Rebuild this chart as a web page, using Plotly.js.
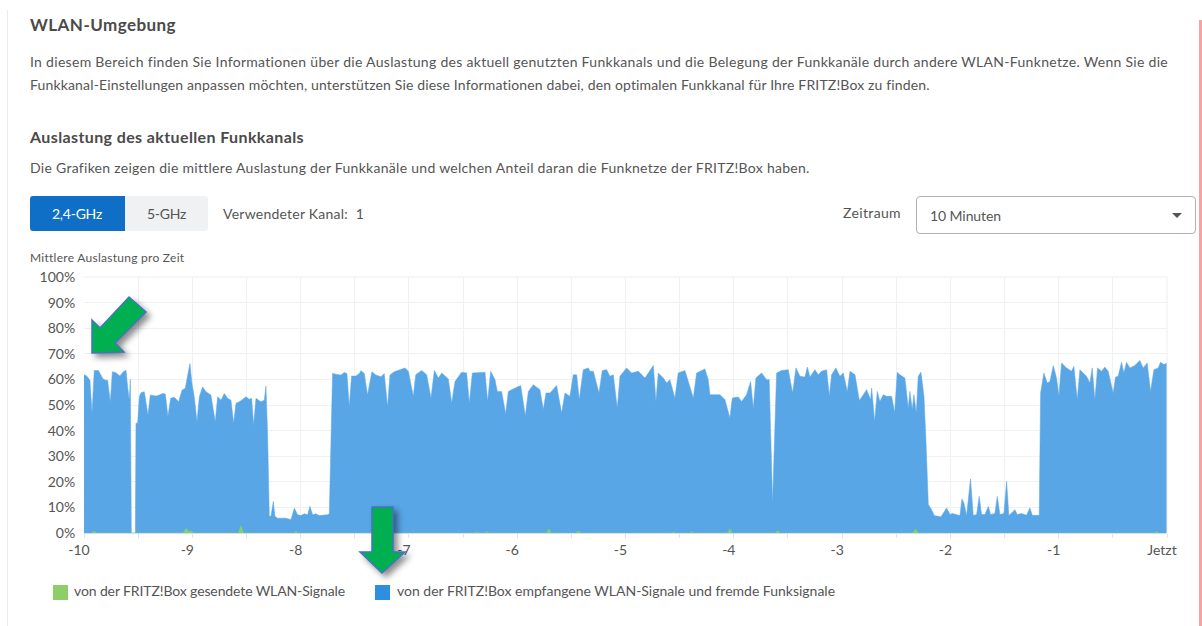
<!DOCTYPE html>
<html lang="de">
<head>
<meta charset="utf-8">
<title>WLAN-Umgebung</title>
<script src="https://cdn.plot.ly/plotly-3.0.1.min.js"></script>
<style>
html,body{margin:0;padding:0;background:#fff;width:1202px;height:626px;overflow:hidden}
body{font-family:Lato,"Noto Sans",sans-serif;color:#555;position:relative}
#chart{position:absolute;left:0;top:0;width:1202px;height:626px}
.t{position:absolute;white-space:nowrap;line-height:20px;font-size:14px;transform:translateY(-10px)}
.b{font-weight:700;color:#4a4a4a}
.box{position:absolute}
svg.arrows{position:absolute;left:0;top:0;width:1202px;height:626px;pointer-events:none;filter:drop-shadow(4px 4px 3px rgba(0,0,0,.45))}
</style>
</head>
<body>
<div id="chart"></div>

<div class="box" style="left:7px;top:10px;width:1px;height:616px;background:#ececec"></div>
<div class="box" style="left:1199px;top:20px;width:3px;height:606px;background:#f7a3a3"></div>

<div class="t b" data-w="146" style="left:30px;top:25px;font-size:17px">WLAN-Umgebung</div>
<div class="t" data-w="1138" style="left:30px;top:62px">In diesem Bereich finden Sie Informationen über die Auslastung des aktuell genutzten Funkkanals und die Belegung der Funkkanäle durch andere WLAN-Funknetze. Wenn Sie die</div>
<div class="t" data-w="900" style="left:30px;top:85px">Funkkanal-Einstellungen anpassen möchten, unterstützen Sie diese Informationen dabei, den optimalen Funkkanal für Ihre FRITZ!Box zu finden.</div>
<div class="t b" data-w="274" style="left:30px;top:137px;font-size:16px">Auslastung des aktuellen Funkkanals</div>
<div class="t" data-w="779" style="left:30px;top:168px">Die Grafiken zeigen die mittlere Auslastung der Funkkanäle und welchen Anteil daran die Funknetze der FRITZ!Box haben.</div>

<div class="box" style="left:30px;top:196px;width:178px;height:35px;background:#f0f1f3;border-radius:3px"></div>
<div class="box" style="left:30px;top:196px;width:95px;height:35px;background:#0f6fc6;border-radius:3px 0 0 3px"></div>
<div class="t" data-w="50" style="left:52px;top:214px;color:#fff">2,4-GHz</div>
<div class="t" data-w="39" style="left:147px;top:214px">5-GHz</div>
<div class="t" data-w="141" style="left:223px;top:214px">Verwendeter Kanal:&nbsp; 1</div>
<div class="t" data-w="58" style="left:843px;top:213px">Zeitraum</div>
<div class="box" style="left:916px;top:196px;width:278px;height:36px;border:1px solid #b0b0b0;border-radius:4px;background:#fff"></div>
<div class="t" data-w="71" style="left:930px;top:216px">10 Minuten</div>
<div class="box" style="left:1172px;top:213px;width:0;height:0;border-left:5px solid transparent;border-right:5px solid transparent;border-top:5px solid #555"></div>

<div class="t" data-w="154" style="left:30px;top:258px;font-size:12px">Mittlere Auslastung pro Zeit</div>

<div class="box" style="left:53px;top:585px;width:15px;height:15px;background:#8ccf68"></div>
<div class="t" data-w="271" style="left:74px;top:591px">von der FRITZ!Box gesendete WLAN-Signale</div>
<div class="box" style="left:375px;top:585px;width:15px;height:15px;background:#2e8fe0"></div>
<div class="t" data-w="438" style="left:397px;top:591px">von der FRITZ!Box empfangene WLAN-Signale und fremde Funksignale</div>

<svg class="arrows" viewBox="0 0 1202 626">
  <polygon points="92,353 92,320 100,328 129,297 146,312 115,343 124,352" fill="#00b050" stroke="#4472c4" stroke-width="1.5"/>
  <polygon points="372,507 393,507 393,552 405,552 382,573 360,552 372,552" fill="#00b050" stroke="#4472c4" stroke-width="1.5"/>
</svg>

<script>
// Zeit in Minuten vor "Jetzt" und empfangene Auslastung in Prozent
var receivedMinutes = [
-10,-9.975,-9.945,-9.926,-9.905,-9.889,-9.868,-9.849,-9.828,-9.803,-9.782,-9.757,-9.738,-9.705,-9.668,-9.637,-9.612,-9.597,-9.582,-9.572,-9.563,-9.551,-9.526,-9.52,-9.505,-9.489,-9.474,-9.443,-9.428,-9.409,-9.388,-9.335,-9.305,-9.274,-9.249,-9.225,-9.2,-9.166,-9.126,-9.095,-9.065,-9.043,-9.022,-9.003,-8.982,-8.957,-8.935,-8.905,-8.874,-8.828,-8.788,-8.766,-8.735,-8.705,-8.674,-8.643,-8.618,-8.597,-8.551,-8.505,-8.474,-8.452,-8.434,-8.412,-8.366,-8.335,-8.32,-8.305,-8.289,-8.274,-8.252,-8.237,-8.212,-8.135,-8.089,-8.058,-8.028,-7.997,-7.966,-7.935,-7.914,-7.889,-7.858,-7.828,-7.751,-7.735,-7.72,-7.705,-7.658,-7.628,-7.597,-7.572,-7.551,-7.529,-7.489,-7.458,-7.443,-7.412,-7.382,-7.342,-7.305,-7.258,-7.228,-7.197,-7.175,-7.135,
-7.082,-7.036,-7.005,-6.959,-6.937,-6.882,-6.836,-6.796,-6.765,-6.728,-6.697,-6.636,-6.605,-6.574,-6.513,-6.467,-6.442,-6.414,-6.297,-6.273,-6.245,-6.205,-6.184,-6.144,-6.107,-6.082,-6.02,-5.968,-5.925,-5.897,-5.851,-5.79,-5.759,-5.734,-5.697,-5.636,-5.59,-5.559,-5.513,-5.482,-5.451,-5.427,-5.39,-5.343,-5.328,-5.297,-5.245,-5.214,-5.174,-5.144,-5.113,-5.076,-5.051,-4.99,-4.943,-4.882,-4.82,-4.743,-4.719,-4.697,-4.651,-4.62,-4.59,-4.544,-4.513,-4.451,-4.42,-4.374,-4.343,-4.267,-4.236,-4.22,-4.128,-4.082,-4.036,-4.014,-3.959,-3.928,-3.882,-3.845,-3.82,-3.796,-3.744,-3.697,-3.673,-3.642,-3.605,-3.559,-3.497,-3.457,-3.426,
-3.389,-3.343,-3.321,-3.297,-3.251,-3.22,-3.189,-3.143,-3.118,-3.097,-3.057,-3.02,-2.989,-2.952,-2.927,-2.881,-2.841,-2.804,-2.774,-2.737,-2.727,-2.7,-2.675,-2.651,-2.62,-2.589,-2.543,-2.515,-2.491,-2.466,-2.42,-2.389,-2.374,-2.352,-2.337,-2.315,-2.297,-2.272,-2.244,-2.226,-2.204,-2.174,-2.149,-2.087,-2.035,-2.004,-1.98,-1.912,-1.894,-1.875,-1.851,-1.814,-1.789,-1.758,-1.734,-1.712,-1.681,-1.65,-1.629,-1.589,-1.567,-1.543,-1.506,-1.481,-1.46,-1.404,-1.383,-1.343,-1.297,-1.266,-1.244,-1.18,-1.167,-1.137,-1.106,-1.081,-1.05,-1.02,-0.998,-0.974,-0.927,-0.881,-0.86,-0.829,-0.804,-0.743,-0.712,-0.691,-0.666,-0.641,-0.604,-0.574,-0.543,-0.497,-0.475,-0.451,-0.42,-0.398,-0.374,-0.343,-0.297,-0.251,-0.22,-0.183,-0.152,-0.121,-0.081,-0.06,-0.029,0];
var receivedPercent = [
61.9,61.3,59.7,46.8,63.6,63.4,63.6,62.3,60.4,59.7,59.7,51.3,63,62.6,61.3,63,63.6,57.1,51.9,60,0,0,0,42.9,42.9,53.2,54.8,55.2,50.6,46.1,53.9,53.5,53.9,54.5,54.3,45.5,52.6,53,51.3,55.8,56.5,61,66.2,58.4,53.2,43.5,53.2,57.1,55.2,53.9,43.5,53.2,51.9,54.5,52.6,51.9,42.9,50.6,51.7,53.2,52.2,52.6,42.2,52.6,51.3,51.9,57.4,39,6.5,6.5,12.3,6.5,5.8,5.8,5.2,9.7,7.1,6.8,7.5,7.1,10.4,7.1,7.5,6.8,7.1,7.5,36.4,62.3,61.9,61.7,62.7,62.3,49.4,61.3,61.3,62.3,63.4,62.3,53.9,63,61.7,61,62.3,49.4,61.7,63,
63.8,64.5,63.2,53.4,61.8,63.5,61.8,52.7,63.5,60.5,62.5,60.2,50.8,59.2,62.8,62.5,50.8,62.5,62.8,51.4,63.2,59.9,55.3,55.3,46.6,55.3,56.6,57.6,45.8,55.3,57.9,56,48.2,54.7,54.7,57.6,46.9,54.7,53.4,61.8,61.8,52.1,63.8,64.5,63.2,63.2,54.7,63.5,63.8,61.2,61.8,48.8,61.2,64.5,62.5,63.2,60.5,65.4,51.4,62.5,60.5,58.6,59.9,52.7,62.5,63.5,59.2,52.7,62.5,64.1,59.9,54,54,52.1,44.9,52.7,53.1,51.4,54,59.2,48.8,60.5,62.5,59.9,59.9,11.7,62.5,63.5,63.8,54.7,64.5,
61.2,60.9,64.8,60.9,63.8,61.8,63.2,63.8,53.6,61.8,64.5,61.2,62.5,55.3,63.2,61.8,51.8,54,56,52.1,56.6,43.6,55.3,51.4,54,53.4,53.4,47.1,62.8,61.8,60.5,48.8,55.3,48.2,54,46.9,61.2,62.8,53.4,36.5,11.1,9.1,6.8,6.3,9.8,7.2,7.6,6.8,13.3,11.7,6.8,21.1,6.8,7.2,14.3,7.2,7.2,10.4,7.2,7.6,14.3,7.2,7.6,20.2,6.8,9.1,7.2,7.6,6.9,9.8,6.9,6.9,54.7,62.5,58.6,59.2,65.4,60.5,53.4,66.4,64.5,63.2,65.1,52.1,63.8,61.2,58.6,64.5,52.1,64.5,63.2,64.8,63.2,54.7,60.9,61.2,66.7,62.5,66.7,64.5,65.4,67.4,64.5,66.4,55.3,63.8,64.5,66.7,65.8,66.4];

// Von der FRITZ!Box gesendet: kleine Spitzen
var sentMinutes = [-9.93,-9.905,-9.88,-9.085,-9.058,-9.03,-9.01,-8.985,-8.575,-8.551,-8.527,-8.065,-8.043,-8.02,-6.4,-6.374,-6.35,-6.305,-6.282,-6.26,-5.73,-5.707,-5.685,-5.46,-5.436,-5.41,-4.585,-4.559,-4.535,-4.41,-4.39,-4.37,-4.06,-4.036,-4.012,-3.62,-3.596,-3.572,-2.35,-2.321,-2.295,-0.12,-0.097,-0.075];
var sentPercent = [0,0.7,0,0,1.8,0.6,0.8,0,0,2.8,0,0,0.7,0,0,0.4,0,0,0.5,0,0,1.6,0,0,0.8,0,0,0.4,0,0,0.5,0,0,1.6,0,0,0.9,0,0,1.6,0,0,0.5,0];

var xTickValues = [-10,-9.5,-9,-8.5,-8,-7.5,-7,-6.5,-6,-5.5,-5,-4.5,-4,-3.5,-3,-2.5,-2,-1.5,-1,-0.5,0];
var xTickLabels = ["-10","","-9","","-8","","-7","","-6","","-5","","-4","","-3","","-2","","-1","","Jetzt"];
var yTickValues = [0,10,20,30,40,50,60,70,80,90,100];
var yTickLabels = ["0%","10%","20%","30%","40%","50%","60%","70%","80%","90%","100%"];

var traces = [
  {x:receivedMinutes,y:receivedPercent,type:"scatter",mode:"lines",fill:"tozeroy",
   name:"von der FRITZ!Box empfangene WLAN-Signale und fremde Funksignale",
   line:{color:"#5aa6e6",width:0.5},fillcolor:"rgba(84,163,229,0.97)",hoverinfo:"skip"},
  {x:sentMinutes,y:sentPercent,type:"scatter",mode:"lines",fill:"tozeroy",
   name:"von der FRITZ!Box gesendete WLAN-Signale",
   line:{color:"#84d06c",width:0.5},fillcolor:"#84d06c",hoverinfo:"skip"}
];
var layout = {
  width:1202,height:626,showlegend:false,
  paper_bgcolor:"rgba(0,0,0,0)",plot_bgcolor:"#fff",
  margin:{l:84,r:35,t:277,b:93,pad:0},
  font:{family:'Lato,"Noto Sans",sans-serif',size:14,color:"#555"},
  xaxis:{range:[-10,0],tickmode:"array",tickvals:xTickValues,ticktext:xTickLabels,
    ticks:"outside",ticklen:4,tickcolor:"#dfe3e8",tickwidth:1,ticklabelshift:-5,
    showgrid:true,gridcolor:"#f0f1f3",gridwidth:1,zeroline:false,
    showline:true,linecolor:"#d5dde5",linewidth:1,mirror:false,fixedrange:true,
    tickangle:0,tickfont:{size:14,color:"#555"}},
  yaxis:{range:[0,100],tickmode:"array",tickvals:yTickValues,ticktext:yTickLabels,
    ticks:"outside",ticklen:5,tickcolor:"rgba(0,0,0,0)",
    showgrid:true,gridcolor:"#f0f1f3",gridwidth:1,zeroline:false,showline:false,fixedrange:true,
    tickfont:{size:14,color:"#555"}},
  shapes:[
    {type:"line",xref:"paper",yref:"paper",x0:0,x1:1,y0:1,y1:1,line:{color:"#eceef0",width:1}},
    {type:"line",xref:"paper",yref:"paper",x0:1,x1:1,y0:0,y1:1,line:{color:"#eceef0",width:1}}
  ]
};
Plotly.newPlot("chart",traces,layout,{displayModeBar:false,staticPlot:true}).then(fitTexts);

// Textbreiten an die Vorlage anpassen
function fitTexts(){
  document.querySelectorAll(".t[data-w]").forEach(function(el){
    var target=+el.dataset.w, now=el.getBoundingClientRect().width, n=el.textContent.length;
    el.style.letterSpacing=((target-now)/n).toFixed(3)+"px";
  });
}
</script>
</body>
</html>
